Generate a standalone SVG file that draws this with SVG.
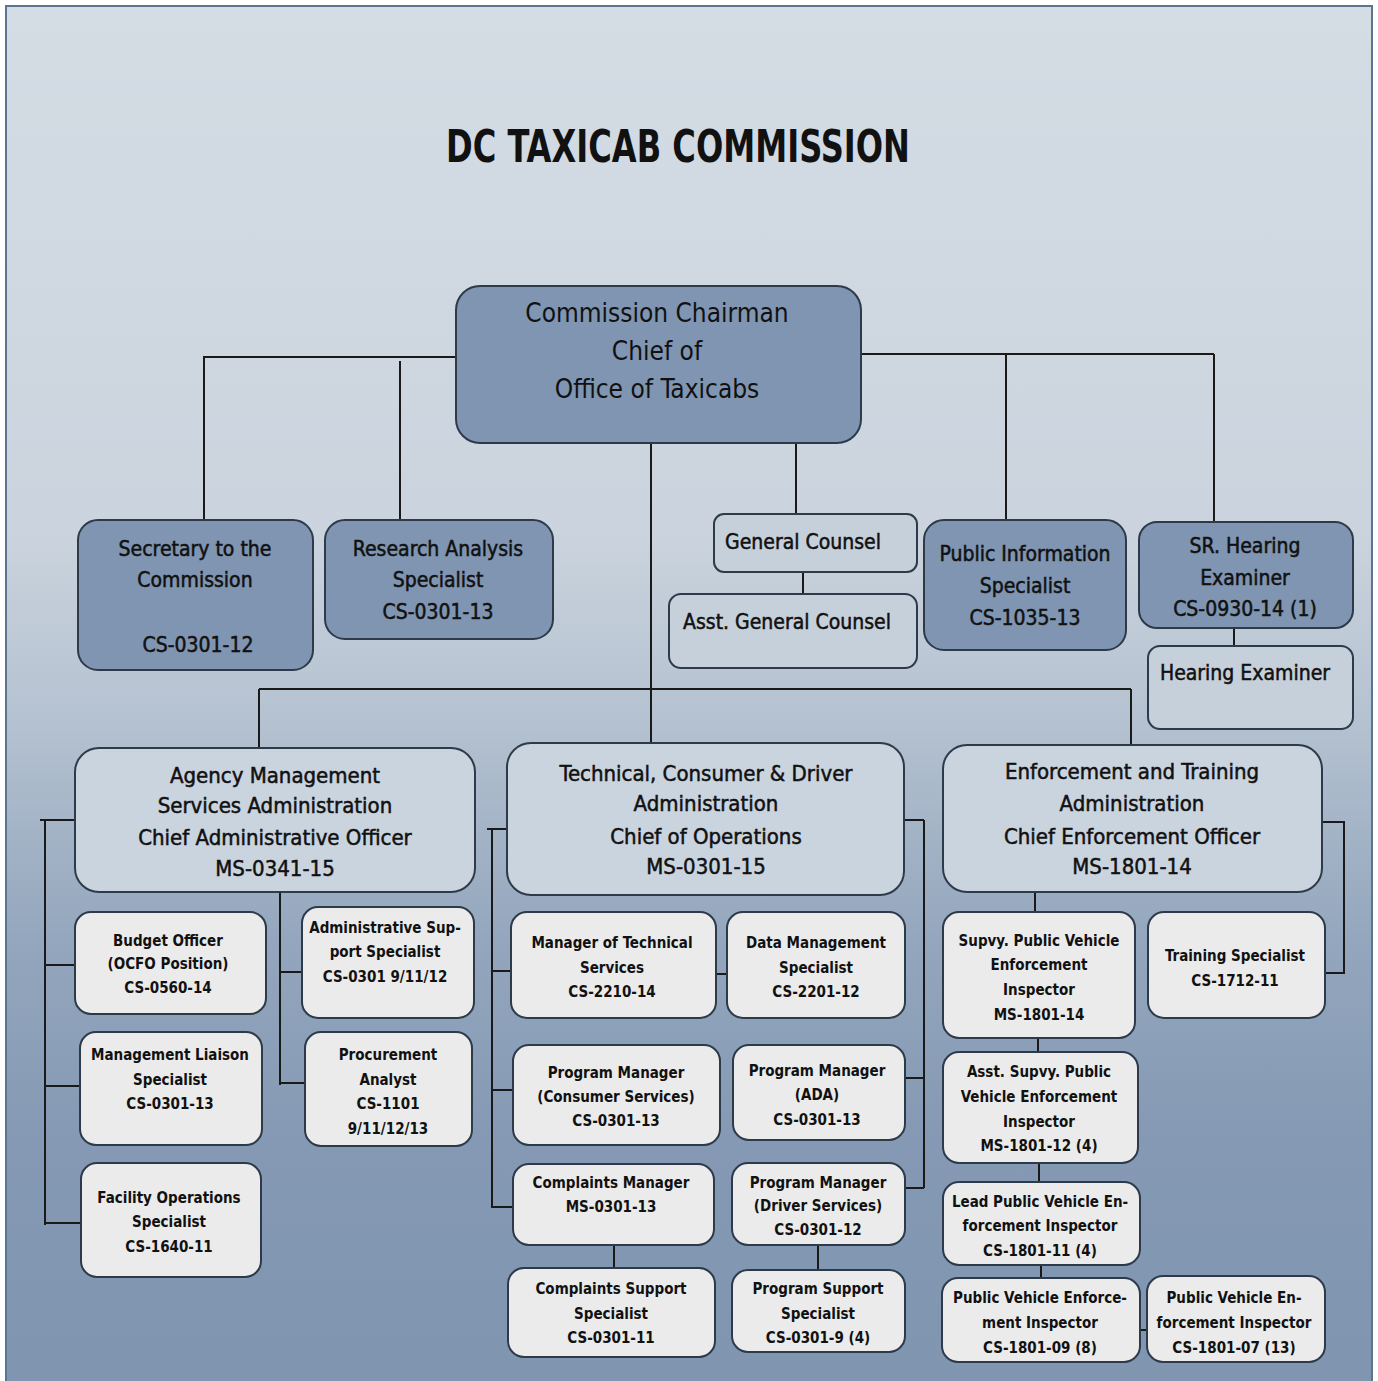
<svg xmlns="http://www.w3.org/2000/svg" width="1378" height="1381" viewBox="0 0 1378 1381">
<defs>
<linearGradient id="bg" x1="0" y1="0" x2="0" y2="1">
<stop offset="0" stop-color="#d4dce4"/>
<stop offset="0.38" stop-color="#cbd4de"/>
<stop offset="0.52" stop-color="#b4c1d0"/>
<stop offset="0.68" stop-color="#93a6bd"/>
<stop offset="0.82" stop-color="#8599b4"/>
<stop offset="1" stop-color="#7f95b0"/>
</linearGradient>
<style>
.dark{fill:#7f95b1;stroke:#2c3a4a;stroke-width:2}
.head{fill:#cad4df;stroke:#2c3a4a;stroke-width:2}
.lite{fill:#c6d0db;stroke:#2c3a4a;stroke-width:2}
.sub{fill:#ebebeb;stroke:#2c3a4a;stroke-width:2}
.ln{stroke:#1a1a1a;stroke-width:2;fill:none}
text{font-family:"DejaVu Sans Condensed","DejaVu Sans",sans-serif;fill:#111;text-anchor:middle}
.t1{font-size:26px}
.t2{font-size:21px;stroke:#111;stroke-width:0.5}
.t3{font-size:22px;stroke:#111;stroke-width:0.5}
.t4{font-size:15px;font-weight:bold}
.title{font-size:44px;font-weight:bold}
</style>
</defs>
<rect x="0" y="0" width="1378" height="1381" fill="#ffffff"/>
<rect x="6" y="6" width="1366" height="1380" fill="url(#bg)" stroke="#5a7594" stroke-width="2"/>
<text class="title" x="678" y="162" textLength="464" lengthAdjust="spacingAndGlyphs">DC TAXICAB COMMISSION</text>

<g id="connectors">
<path class="ln" d="M203 357H456M204 357V520M400 361V520"/>
<path class="ln" d="M861 354H1214M1006 354V520M1214 354V522"/>
<path class="ln" d="M651 443V743M796 443V514M803 572V594M1234 628V646"/>
<path class="ln" d="M259 689H1131M259 689V748M1131 689V745"/>
<path class="ln" d="M40 820H75M45 820V1225M45 965H75M45 1086H80M45 1223H81"/>
<path class="ln" d="M280 892V1085M280 972H302M280 1083H305"/>
<path class="ln" d="M487 829H507M492 829V1208M492 971H511M492 1090H513M492 1207H513"/>
<path class="ln" d="M716 974H727M614 1245V1268M818 1245V1270"/>
<path class="ln" d="M904 820H924M924 820V1188M905 1078H924M905 1188H924"/>
<path class="ln" d="M1322 822H1344V973H1325"/>
<path class="ln" d="M1035 892V912M1038 1038V1052M1039 1163V1182M1041 1265V1278M1140 1330H1147"/>
</g>

<g id="chairman"><rect class="dark" x="456" y="286" width="405" height="157" rx="24"/>
<text class="t1" x="657" y="322">Commission Chairman</text>
<text class="t1" x="657" y="360">Chief of</text>
<text class="t1" x="657" y="398">Office of Taxicabs</text></g>

<g id="secretary"><rect class="dark" x="78" y="520" width="235" height="150" rx="20"/>
<text class="t2" x="195" y="556">Secretary to the</text>
<text class="t2" x="195" y="587">Commission</text>
<text class="t2" x="198" y="652">CS-0301-12</text></g>

<g id="research"><rect class="dark" x="325" y="520" width="228" height="119" rx="20"/>
<text class="t2" x="438" y="556">Research Analysis</text>
<text class="t2" x="438" y="587">Specialist</text>
<text class="t2" x="438" y="619">CS-0301-13</text></g>

<g id="general-counsel"><rect class="lite" x="714" y="514" width="203" height="58" rx="10"/>
<text class="t2" x="803" y="549">General Counsel</text></g>

<g id="asst-general-counsel"><rect class="lite" x="669" y="594" width="248" height="74" rx="12"/>
<text class="t2" x="787" y="629">Asst. General Counsel</text></g>

<g id="public-info"><rect class="dark" x="924" y="520" width="202" height="130" rx="20"/>
<text class="t2" x="1025" y="561">Public Information</text>
<text class="t2" x="1025" y="593">Specialist</text>
<text class="t2" x="1025" y="625">CS-1035-13</text></g>

<g id="sr-hearing"><rect class="dark" x="1139" y="522" width="214" height="106" rx="18"/>
<text class="t2" x="1245" y="553">SR. Hearing</text>
<text class="t2" x="1245" y="585">Examiner</text>
<text class="t2" x="1245" y="616">CS-0930-14 (1)</text></g>

<g id="hearing-examiner"><rect class="lite" x="1148" y="646" width="205" height="83" rx="12"/>
<text class="t2" x="1245" y="680">Hearing Examiner</text></g>

<g id="agency"><rect class="head" x="75" y="748" width="400" height="144" rx="24"/>
<text class="t3" x="275" y="783">Agency Management</text>
<text class="t3" x="275" y="813">Services Administration</text>
<text class="t3" x="275" y="845">Chief Administrative Officer</text>
<text class="t3" x="275" y="876">MS-0341-15</text></g>

<g id="technical"><rect class="head" x="507" y="743" width="397" height="152" rx="24"/>
<text class="t3" x="706" y="781">Technical, Consumer &amp; Driver</text>
<text class="t3" x="706" y="811">Administration</text>
<text class="t3" x="706" y="844">Chief of Operations</text>
<text class="t3" x="706" y="874">MS-0301-15</text></g>

<g id="enforcement"><rect class="head" x="943" y="745" width="379" height="147" rx="24"/>
<text class="t3" x="1132" y="779">Enforcement and Training</text>
<text class="t3" x="1132" y="811">Administration</text>
<text class="t3" x="1132" y="844">Chief Enforcement Officer</text>
<text class="t3" x="1132" y="874">MS-1801-14</text></g>

<g id="budget"><rect class="sub" x="75" y="912" width="191" height="102" rx="16"/>
<text class="t4" x="168" y="946">Budget Officer</text>
<text class="t4" x="168" y="969">(OCFO Position)</text>
<text class="t4" x="168" y="993">CS-0560-14</text></g>

<g id="admin-support"><rect class="sub" x="302" y="907" width="172" height="111" rx="16"/>
<text class="t4" x="385" y="933">Administrative Sup-</text>
<text class="t4" x="385" y="957">port Specialist</text>
<text class="t4" x="385" y="982">CS-0301 9/11/12</text></g>

<g id="mgmt-liaison"><rect class="sub" x="80" y="1032" width="182" height="113" rx="16"/>
<text class="t4" x="170" y="1060">Management Liaison</text>
<text class="t4" x="170" y="1085">Specialist</text>
<text class="t4" x="170" y="1109">CS-0301-13</text></g>

<g id="procurement"><rect class="sub" x="305" y="1032" width="167" height="114" rx="16"/>
<text class="t4" x="388" y="1060">Procurement</text>
<text class="t4" x="388" y="1085">Analyst</text>
<text class="t4" x="388" y="1109">CS-1101</text>
<text class="t4" x="388" y="1134">9/11/12/13</text></g>

<g id="facility"><rect class="sub" x="81" y="1163" width="180" height="114" rx="16"/>
<text class="t4" x="169" y="1203">Facility Operations</text>
<text class="t4" x="169" y="1227">Specialist</text>
<text class="t4" x="169" y="1252">CS-1640-11</text></g>

<g id="mgr-technical"><rect class="sub" x="511" y="912" width="205" height="106" rx="16"/>
<text class="t4" x="612" y="948">Manager of Technical</text>
<text class="t4" x="612" y="973">Services</text>
<text class="t4" x="612" y="997">CS-2210-14</text></g>

<g id="data-mgmt"><rect class="sub" x="727" y="912" width="178" height="106" rx="16"/>
<text class="t4" x="816" y="948">Data Management</text>
<text class="t4" x="816" y="973">Specialist</text>
<text class="t4" x="816" y="997">CS-2201-12</text></g>

<g id="pm-consumer"><rect class="sub" x="513" y="1045" width="207" height="100" rx="16"/>
<text class="t4" x="616" y="1078">Program Manager</text>
<text class="t4" x="616" y="1102">(Consumer Services)</text>
<text class="t4" x="616" y="1126">CS-0301-13</text></g>

<g id="pm-ada"><rect class="sub" x="733" y="1045" width="172" height="95" rx="16"/>
<text class="t4" x="817" y="1076">Program Manager</text>
<text class="t4" x="817" y="1100">(ADA)</text>
<text class="t4" x="817" y="1125">CS-0301-13</text></g>

<g id="complaints-mgr"><rect class="sub" x="513" y="1164" width="201" height="81" rx="16"/>
<text class="t4" x="611" y="1188">Complaints Manager</text>
<text class="t4" x="611" y="1212">MS-0301-13</text></g>

<g id="pm-driver"><rect class="sub" x="732" y="1163" width="173" height="82" rx="16"/>
<text class="t4" x="818" y="1188">Program Manager</text>
<text class="t4" x="818" y="1211">(Driver Services)</text>
<text class="t4" x="818" y="1235">CS-0301-12</text></g>

<g id="complaints-support"><rect class="sub" x="508" y="1268" width="207" height="89" rx="16"/>
<text class="t4" x="611" y="1294">Complaints Support</text>
<text class="t4" x="611" y="1319">Specialist</text>
<text class="t4" x="611" y="1343">CS-0301-11</text></g>

<g id="program-support"><rect class="sub" x="732" y="1270" width="173" height="82" rx="16"/>
<text class="t4" x="818" y="1294">Program Support</text>
<text class="t4" x="818" y="1319">Specialist</text>
<text class="t4" x="818" y="1343">CS-0301-9 (4)</text></g>

<g id="supvy"><rect class="sub" x="943" y="912" width="192" height="126" rx="16"/>
<text class="t4" x="1039" y="946">Supvy. Public Vehicle</text>
<text class="t4" x="1039" y="970">Enforcement</text>
<text class="t4" x="1039" y="995">Inspector</text>
<text class="t4" x="1039" y="1020">MS-1801-14</text></g>

<g id="training"><rect class="sub" x="1148" y="912" width="177" height="106" rx="16"/>
<text class="t4" x="1235" y="961">Training Specialist</text>
<text class="t4" x="1235" y="986">CS-1712-11</text></g>

<g id="asst-supvy"><rect class="sub" x="943" y="1052" width="195" height="111" rx="16"/>
<text class="t4" x="1039" y="1077">Asst. Supvy. Public</text>
<text class="t4" x="1039" y="1102">Vehicle Enforcement</text>
<text class="t4" x="1039" y="1127">Inspector</text>
<text class="t4" x="1039" y="1151">MS-1801-12 (4)</text></g>

<g id="lead-pve"><rect class="sub" x="943" y="1182" width="197" height="83" rx="16"/>
<text class="t4" x="1040" y="1207">Lead Public Vehicle En-</text>
<text class="t4" x="1040" y="1231">forcement Inspector</text>
<text class="t4" x="1040" y="1256">CS-1801-11 (4)</text></g>

<g id="pve-09"><rect class="sub" x="942" y="1278" width="198" height="84" rx="16"/>
<text class="t4" x="1040" y="1303">Public Vehicle Enforce-</text>
<text class="t4" x="1040" y="1328">ment Inspector</text>
<text class="t4" x="1040" y="1353">CS-1801-09 (8)</text></g>

<g id="pve-07"><rect class="sub" x="1147" y="1276" width="178" height="86" rx="16"/>
<text class="t4" x="1234" y="1303">Public Vehicle En-</text>
<text class="t4" x="1234" y="1328">forcement Inspector</text>
<text class="t4" x="1234" y="1353">CS-1801-07 (13)</text></g>
</svg>
